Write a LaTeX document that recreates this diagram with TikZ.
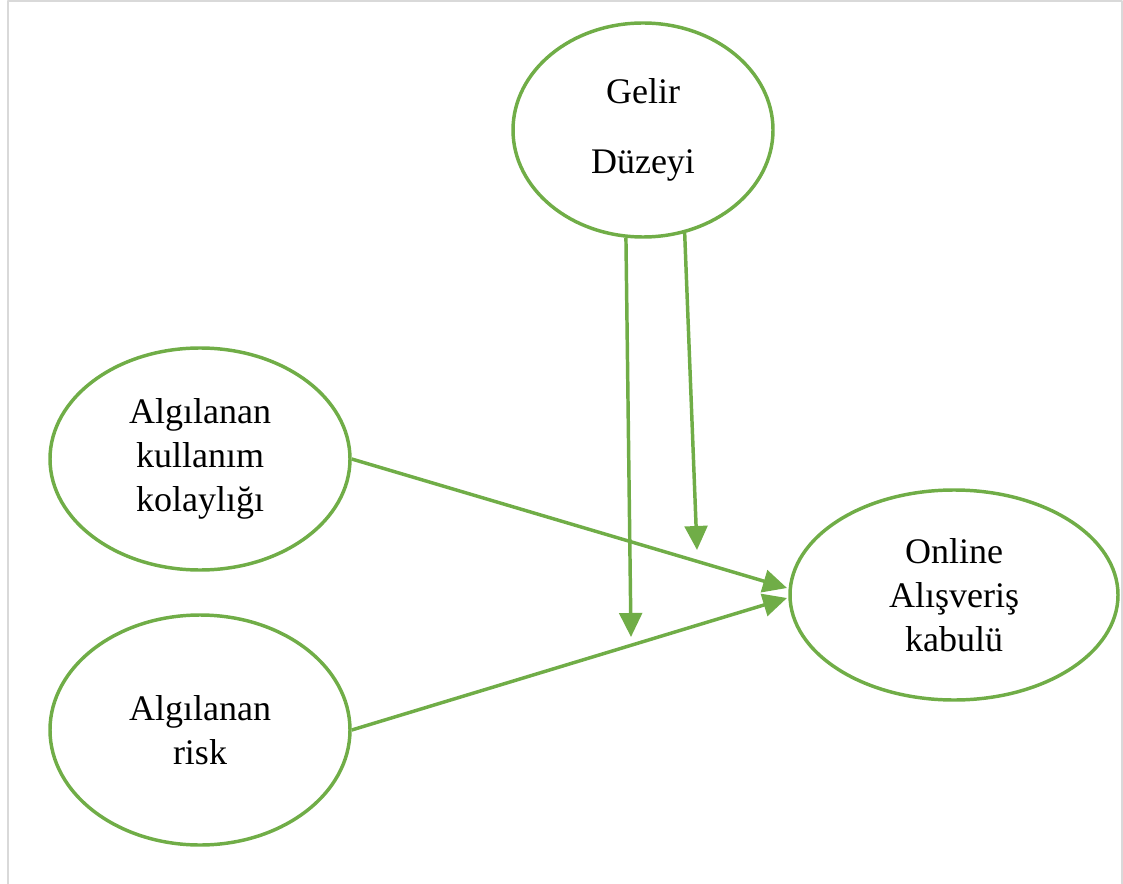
\documentclass[tikz,border=0pt]{standalone}
\usepackage{fontspec}
\setmainfont{Liberation Serif}
\usetikzlibrary{shapes.geometric,arrows.meta}
\definecolor{yesil}{RGB}{112,173,71}
\definecolor{cerceve}{RGB}{217,217,217}
\tikzset{
  elips/.style={ellipse, draw=yesil, line width=2.6pt, inner sep=0pt,
    align=center, font=\fontsize{27}{33}\selectfont},
  ok/.style={draw=yesil, line width=2.6pt,
    -{Triangle[length=18pt,width=17pt]}, fill=yesil}
}
\begin{document}
\begin{tikzpicture}[x=0.75pt, y=0.75pt, line join=round]
  \useasboundingbox (0,0) rectangle (1123,883);

  % cerceve
  \draw[cerceve, line width=1.5pt] (7.5,-10) -- (7.5,881.5) -- (1121.5,881.5) -- (1121.5,-10);

  % elipsler
  \node[elips, minimum width=195pt, minimum height=160.5pt] (gel) at (643,753)
    {Gelir\\[19pt]Düzeyi};
  \node[elips, minimum width=225pt, minimum height=166.5pt] (kol) at (200,424)
    {Algılanan\\kullanım\\kolaylığı};
  \node[elips, minimum width=225pt, minimum height=172.5pt] (rsk) at (200,153)
    {Algılanan\\risk};
  \node[elips, minimum width=246pt, minimum height=157.5pt] (onl) at (954,288)
    {Online\\Alışveriş\\kabulü};

  % ok uclari
  \coordinate (g1) at (631,246);
  \coordinate (g2) at (697,333);
  \coordinate (o1) at (787,295);
  \coordinate (o2) at (787,285);

  % oklar
  \draw[ok] (gel.261) -- (g1);
  \draw[ok] (gel.292) -- (g2);
  \draw[ok] (kol.east) -- (o1);
  \draw[ok] (rsk.east) -- (o2);
\end{tikzpicture}
\end{document}
